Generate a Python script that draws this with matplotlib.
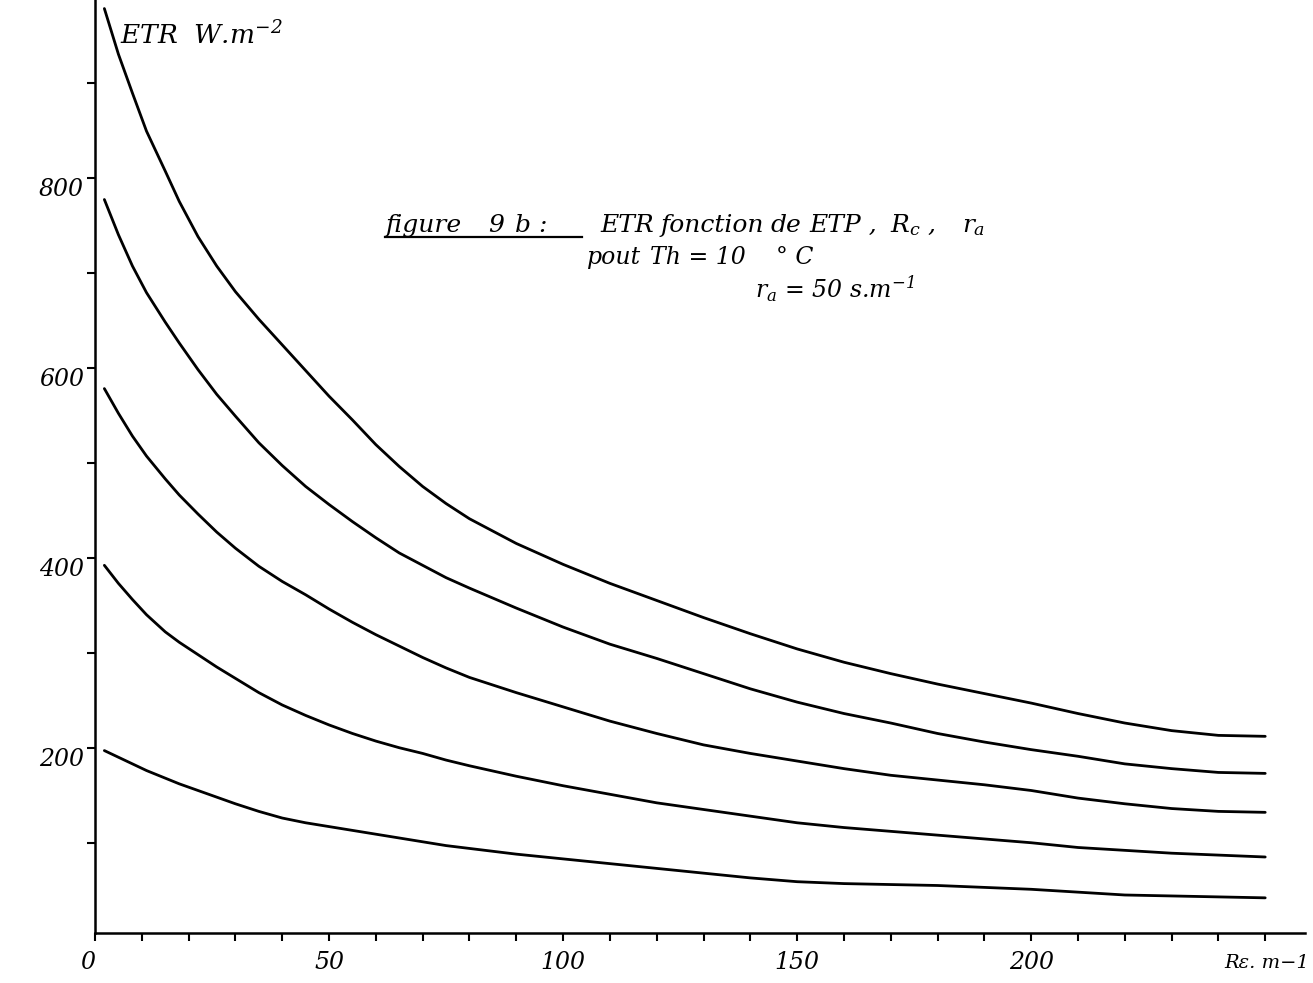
import matplotlib.pyplot as plt
from matplotlib.ticker import MultipleLocator

plt.rcParams['font.family'] = ['DejaVu Serif']
plt.rcParams['font.style'] = 'italic'
plt.rcParams['mathtext.fontset'] = 'dejavuserif'

# résistance de couvert (s.m-1)
rc = [2, 5, 8, 11, 15, 18, 22, 26, 30, 35, 40, 45, 50, 55, 60, 65, 70, 75, 80, 90,
      100, 110, 120, 130, 140, 150, 160, 170, 180, 190, 200, 210, 220, 230, 240, 250]

# ETR (W.m-2) pour chaque courbe, de haut en bas
etr_1 = [978, 930, 889, 849, 807, 775, 738, 707, 680, 651, 624, 597, 570, 545, 519, 496,
         475, 457, 441, 415, 393, 373, 355, 337, 320, 304, 290, 278, 267, 257, 247, 236,
         226, 218, 213, 212]
etr_2 = [777, 740, 707, 679, 648, 626, 598, 572, 549, 521, 497, 475, 456, 438, 421, 405,
         392, 379, 368, 347, 327, 309, 294, 278, 262, 248, 236, 226, 215, 206, 198, 191,
         183, 178, 174, 173]
etr_3 = [578, 552, 528, 507, 483, 466, 446, 427, 410, 391, 375, 361, 346, 332, 319, 307,
         295, 284, 274, 258, 243, 228, 215, 203, 194, 186, 178, 171, 166, 161, 155, 147,
         141, 136, 133, 132]
etr_4 = [392, 373, 356, 340, 322, 311, 298, 285, 273, 258, 245, 234, 224, 215, 207, 200,
         194, 187, 181, 170, 160, 151, 142, 135, 128, 121, 116, 112, 108, 104, 100, 95,
         92, 89, 87, 85]
etr_5 = [197, 190, 183, 176, 168, 162, 155, 148, 141, 133, 126, 121, 117, 113, 109, 105,
         101, 97, 94, 88, 83, 78, 73, 68, 63, 59, 57, 56, 55, 53, 51, 48,
         45, 44, 43, 42]

W, H = 1313, 983
fig = plt.figure(figsize=(W / 100, H / 100), dpi=100)
ax = fig.add_axes([95 / W, 50 / H, 1210 / W, 933 / H])

for etr in [etr_1, etr_2, etr_3, etr_4, etr_5]:
    ax.plot(rc, etr, color='black', linewidth=2.0, solid_capstyle='round')

ax.set_xlim(0, 258.5)
ax.set_ylim(5, 987)
for s in ['top', 'right']:
    ax.spines[s].set_visible(False)
for s in ['left', 'bottom']:
    ax.spines[s].set_linewidth(1.8)

ax.set_xticks([0, 50, 100, 150, 200])
ax.xaxis.set_minor_locator(MultipleLocator(10))
ax.set_yticks([200, 400, 600, 800])
ax.yaxis.set_minor_locator(MultipleLocator(100))
ax.tick_params(axis='both', which='both', direction='out', width=1.5, length=6,
               labelsize=17)
ax.tick_params(axis='x', pad=7)
ax.tick_params(axis='y', pad=2)
ax.xaxis.get_major_ticks()[0].label1.set_horizontalalignment('right')
for t in ax.yaxis.get_major_ticks():
    t.label1.set_verticalalignment('top')


def txt(x, y, s, size=18):
    # position en pixels depuis le coin haut-gauche
    fig.text(x / W, 1 - y / H, s, fontsize=size, va='baseline', ha='left')


txt(120, 44, r'ETR  W.m$^{\mathit{-2}}$', 19)
txt(1224, 968, 'Rɛ. m\u22121', 14)

# titre
txt(386, 232, 'figure')
txt(488, 232, '9')
txt(515, 232, 'b :')
fig.add_artist(plt.Line2D([385 / W, 582 / W], [1 - 237 / H, 1 - 237 / H],
                          color='black', linewidth=1.6))
txt(600, 232, 'ETR')
txt(661, 232, 'fonction')
txt(771, 232, 'de')
txt(809, 232, 'ETP ,')
txt(890, 232, r'$R_c$ ,')
txt(962, 232, r'$r_a$')
txt(587, 264, 'pout', 17)
txt(650, 264, 'Th = 10', 17)
txt(776, 264, '° C', 17)
txt(755, 298, r'$r_a$ = 50 s.m$^{\mathit{-1}}$', 17)

fig.savefig('out.png', dpi=100)
